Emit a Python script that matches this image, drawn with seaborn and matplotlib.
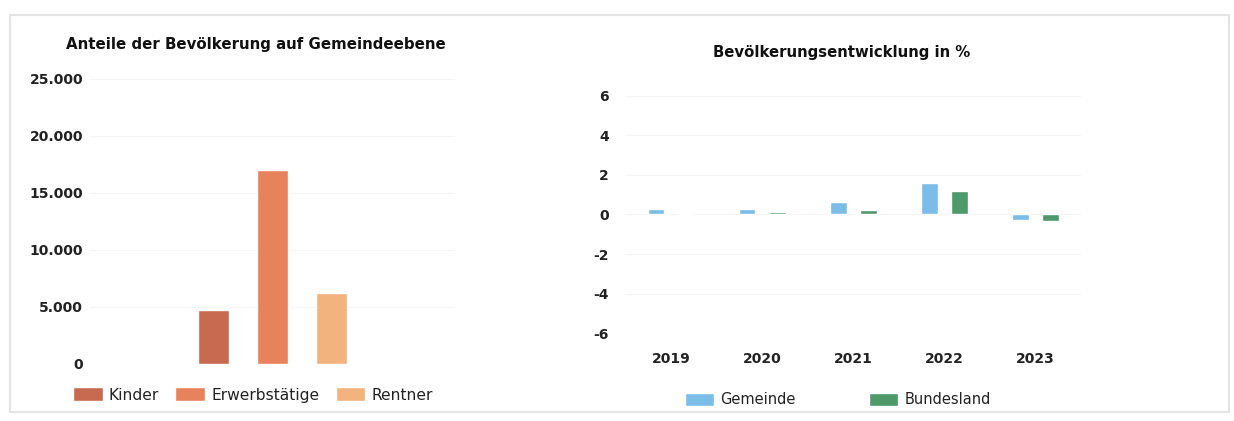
import matplotlib
matplotlib.use("Agg")
import matplotlib.pyplot as plt
import pandas as pd
import seaborn as sns
from matplotlib.patches import Rectangle
from matplotlib.ticker import FuncFormatter

# Anteile der Bevölkerung
groups = ["Kinder", "Erwerbstätige", "Rentner"]
group_values = [4750, 17000, 6200]
group_colors = ["#c86a50", "#e8825c", "#f2b37e"]

# Bevölkerungsentwicklung in %
years = ["2019", "2020", "2021", "2022", "2023"]
gemeinde = [0.3, 0.3, 0.65, 1.6, -0.3]
bundesland = [0.1, 0.15, 0.25, 1.2, -0.35]
area_colors = {"Gemeinde": "#7bbde8", "Bundesland": "#4e9a6a"}

sns.set_theme(style="white")
plt.rcParams["font.family"] = ["DejaVu Sans"]
plt.rcParams["axes.unicode_minus"] = False

fig = plt.figure(figsize=(12.34, 4.21), dpi=100)

# left chart
ax1 = fig.add_axes([0.073, 0.1354, 0.296, 0.677])
sns.barplot(x=groups, y=group_values, hue=groups, palette=group_colors,
            width=0.52, saturation=1, ax=ax1, legend=True)
ax1.set_ylim(0, 25000)
ax1.set_xlim(-2.09, 4.09)
ax1.set_yticks(range(0, 25001, 5000))
ax1.yaxis.set_major_formatter(FuncFormatter(lambda v, p: f"{int(v):,}".replace(",", ".")))
ax1.set_xticks([])
ax1.set_xlabel("")
ax1.set_ylabel("")
ax1.tick_params(axis="y", length=0, pad=5, labelsize=10, labelcolor="#222222")
for lbl in ax1.get_yticklabels():
    lbl.set_fontweight("bold")
ax1.grid(axis="y", color="#f5f5f5", linewidth=0.8)
sns.despine(ax=ax1, left=True, bottom=True)
h, l = ax1.get_legend_handles_labels()
ax1.legend(h, l, loc="center", bbox_to_anchor=(0.205, 0.062), bbox_transform=fig.transFigure,
           ncol=3, frameon=False, fontsize=11.2, handlelength=1.9, handleheight=1.0,
           handletextpad=0.4, columnspacing=1.05, labelcolor="#222222")
fig.text(256 / 1234, 1 - 45 / 421, "Anteile der Bevölkerung auf Gemeindeebene",
         ha="center", va="center", fontsize=10.8, fontweight="bold", color="#111111")

# right chart
df = pd.DataFrame({
    "Jahr": years * 2,
    "Wert": gemeinde + bundesland,
    "Gebiet": ["Gemeinde"] * len(years) + ["Bundesland"] * len(years),
})
ax2 = fig.add_axes([0.507, 0.209, 0.369, 0.563])
sns.barplot(data=df, x="Jahr", y="Wert", hue="Gebiet", palette=area_colors,
            width=0.66, gap=0.45, saturation=1, ax=ax2)
ax2.set_ylim(-6, 6)
ax2.set_xlim(-0.5, 4.5)
ax2.set_yticks(range(-6, 7, 2))
ax2.set_xlabel("")
ax2.set_ylabel("")
ax2.tick_params(axis="y", length=0, pad=12, labelsize=10, labelcolor="#222222")
ax2.tick_params(axis="x", length=0, pad=14, labelsize=10, labelcolor="#222222")
for lbl in ax2.get_yticklabels() + ax2.get_xticklabels():
    lbl.set_fontweight("bold")
ax2.grid(axis="y", color="#f5f5f5", linewidth=0.8)
sns.despine(ax=ax2, left=True, bottom=True)
h, l = ax2.get_legend_handles_labels()
ax2.legend(h, l, loc="center", bbox_to_anchor=(0.679, 0.05), bbox_transform=fig.transFigure,
           ncol=2, frameon=False, fontsize=10.5, handlelength=2.0, handleheight=1.0,
           handletextpad=0.45, columnspacing=5.0, labelcolor="#222222")
fig.text(842 / 1234, 1 - 52 / 421, "Bevölkerungsentwicklung in %",
         ha="center", va="center", fontsize=10.7, fontweight="bold", color="#111111")

# light frame around the scanned box
fig.add_artist(Rectangle((10 / 1234, 1 - 412 / 421), 1219 / 1234, 397 / 421,
                         transform=fig.transFigure, fill=False,
                         edgecolor="#e4e4e4", linewidth=1.5))

fig.savefig("out.png", dpi=100)
